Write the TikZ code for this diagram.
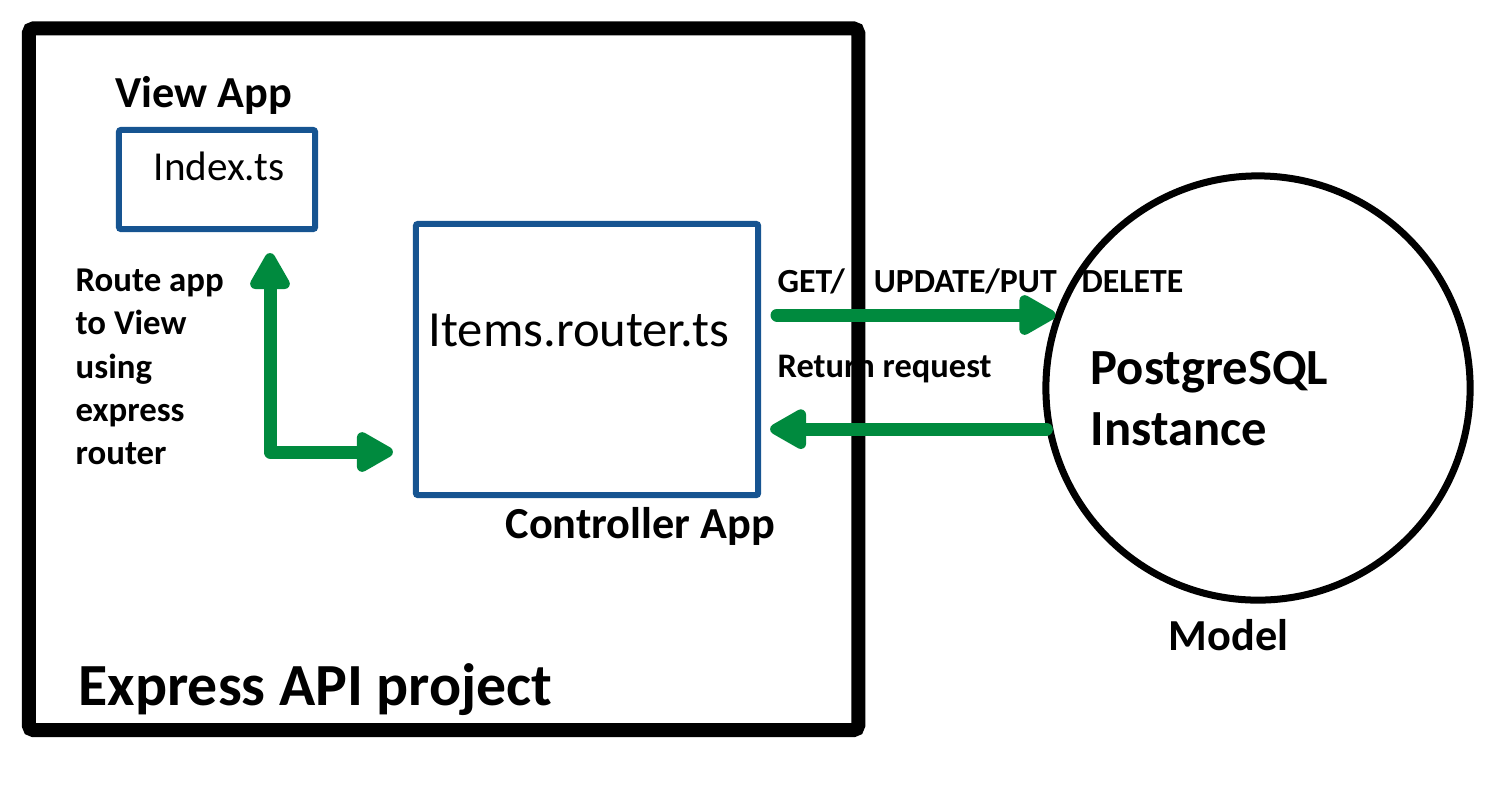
\documentclass[tikz,border=0pt]{standalone}
\usepackage{fontspec}
\setmainfont{Carlito}
\usetikzlibrary{arrows.meta}
\definecolor{flowgreen}{RGB}{0,138,62}
\definecolor{boxblue}{RGB}{22,84,145}
\begin{document}
\begin{tikzpicture}[x=0.01cm, y=-0.01cm,
    appbox/.style={draw=boxblue, line width=0.06cm, rounded corners=0.02cm, inner sep=0},
    flow/.style={draw=flowgreen, line width=0.13cm, line cap=round, line join=round,
      arrows={-Triangle[round, length=0.42cm, width=0.44cm]}},
    lbl/.style={inner sep=0, anchor=base west, align=left}]
  \useasboundingbox (0,0) rectangle (1501,793);
  % labels
  \node[lbl, font=\bfseries\fontsize{12.6}{15}\selectfont] (viewlbl) at (115,107) {View App};
  \node[lbl, font=\fontsize{11.7}{14}\selectfont] (indexlbl) at (153,180) {Index.ts};
  \node[lbl, font=\fontsize{14.4}{18}\selectfont] (itemslbl) at (428,346) {Items.router.ts};
  \node[lbl, font=\bfseries\fontsize{12.6}{15}\selectfont] (ctrllbl) at (505,538) {Controller App};
  \node[lbl, font=\bfseries\fontsize{9.9}{12.23}\selectfont] (routelbl) at (75,464)
    {Route app\\to View\\using\\express\\router};
  \node[lbl, font=\bfseries\fontsize{9.6}{12}\selectfont] (reqlbl) at (777,292)
    {GET/\hspace{0.29cm}UPDATE/PUT\hspace{0.25cm}DELETE};
  \node[lbl, font=\bfseries\fontsize{9.8}{12}\selectfont] (retlbl) at (777,377) {Return request};
  \node[lbl, font=\bfseries\fontsize{14.4}{17.07}\selectfont] (dblbl) at (1090,445)
    {PostgreSQL\\Instance};
  \node[lbl, font=\bfseries\fontsize{12.6}{15}\selectfont] (modellbl) at (1168,650) {Model};
  \node[lbl, font=\bfseries\fontsize{17}{20}\selectfont] (projlbl) at (78,705) {Express API project};
  % shapes
  \node[draw, line width=0.14cm, rounded corners=0.05cm, minimum width=8.29cm,
    minimum height=7.015cm] (project) at (443.5,379.25) {};
  \node[appbox, minimum width=1.96cm, minimum height=0.99cm] (index) at (217,179.5) {};
  \node[appbox, minimum width=3.42cm, minimum height=2.71cm] (ctrl) at (587,359.5) {};
  \node[draw, circle, line width=0.07cm, minimum size=4.24cm] (db) at (1258,388) {};
  % connectors
  \coordinate (bend) at (270,452);
  \coordinate (req) at (777,315);
  \draw[flow, arrows={Triangle[round, length=0.42cm, width=0.44cm]-Triangle[round, length=0.42cm, width=0.44cm]},
    shorten <=0.21cm, shorten >=0.2cm] (bend |- index.south) -- (bend) -- (bend -| ctrl.west);
  \draw[flow] (req) -- (req -| db.160);
  \draw[flow, shorten >=0.09cm] (db.191) -- (db.191 -| ctrl.east);
\end{tikzpicture}
\end{document}
